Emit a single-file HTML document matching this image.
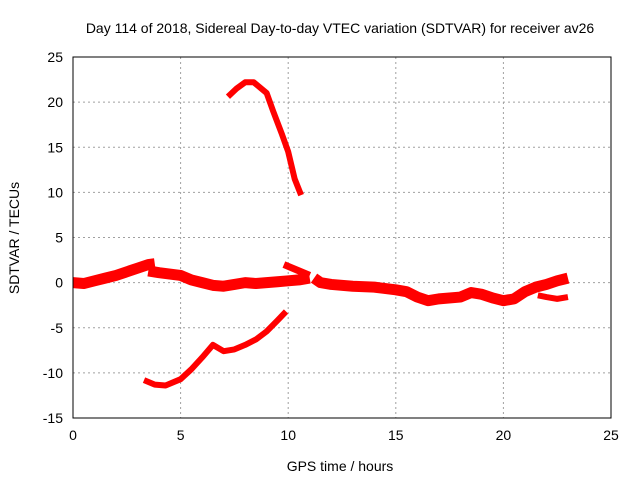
<!DOCTYPE html>
<html><head><meta charset="utf-8"><style>
body{margin:0;background:#fff}
svg text{font-family:"Liberation Sans",sans-serif;font-size:14px;fill:#000}
</style></head><body>
<svg id="c" width="640" height="480" xmlns="http://www.w3.org/2000/svg">
<text x="340" y="33" text-anchor="middle">Day 114 of 2018, Sidereal Day-to-day VTEC variation (SDTVAR) for receiver av26</text>
<text x="340" y="471" text-anchor="middle">GPS time / hours</text>
<text transform="translate(19,238) rotate(-90)" text-anchor="middle">SDTVAR / TECUs</text>
<g id="grid"></g><g id="marks"></g>
<rect x="73" y="57" width="538" height="361" fill="none" stroke="#000" stroke-width="1"/>
</svg>
<script>
const xTicks=[0,5,10,15,20,25];
const yTicks=[25,20,15,10,5,0,-5,-10,-15];
const bandA=[[0,0],[0.5,-0.1],[1,0.2],[1.5,0.5],[2,0.8],[2.5,1.2],[3,1.6],[3.5,2.0],[3.8,2.1]];
const bandB=[[3.5,1.3],[4,1.1],[5,0.8],[5.5,0.3],[6,0],[6.5,-0.3],[7,-0.4],[7.5,-0.2],[8,0],[8.5,-0.1],[9,0],[9.5,0.1],[10,0.2],[10.5,0.3],[11,0.5]];
const bandC=[[9.8,2.0],[10.5,1.3],[11,0.8]];
const bandD=[[11.2,0.5],[11.5,0],[12,-0.2],[13,-0.4],[14,-0.5],[15,-0.8],[15.5,-1],[16,-1.6],[16.5,-2],[17,-1.8],[18,-1.6],[18.5,-1.1],[19,-1.3],[19.5,-1.7],[20,-2],[20.5,-1.8],[21,-1],[21.5,-0.5],[22,-0.2],[22.5,0.2],[23,0.5]];
const bandE=[[21.6,-1.4],[22,-1.6],[22.5,-1.8],[23,-1.6]];
const upperArc=[[7.2,20.6],[7.6,21.5],[8,22.2],[8.4,22.2],[9,21],[9.3,19],[9.7,16.5],[10,14.5],[10.3,11.5],[10.6,9.7]];
const lowerArc=[[3.3,-10.8],[3.8,-11.3],[4.3,-11.4],[5,-10.7],[5.5,-9.6],[6,-8.3],[6.5,-6.9],[7,-7.6],[7.5,-7.4],[8,-6.9],[8.5,-6.3],[9,-5.4],[9.5,-4.2],[9.9,-3.2]];
const NS="http://www.w3.org/2000/svg";
const X=h=>73+h*(538/25), Y=v=>418-(v+15)*(361/40);
const grid=document.getElementById('grid'), marks=document.getElementById('marks');
function mk(tag,at,parent){const e=document.createElementNS(NS,tag);for(const k in at)e.setAttribute(k,at[k]);parent.appendChild(e);return e;}
xTicks.forEach(t=>{
  if(t>0&&t<25){const l=mk('line',{x1:X(t),x2:X(t),y1:57,y2:418,stroke:'#a0a0a0','stroke-dasharray':'2,3'},grid);
  
  }
  const tx=mk('text',{x:X(t),y:440,'text-anchor':'middle'},grid);tx.textContent=t;
  
  
});
yTicks.forEach(t=>{
  if(t>-15&&t<25){const l=mk('line',{x1:73,x2:611,y1:Y(t),y2:Y(t),stroke:'#a0a0a0','stroke-dasharray':'2,3'},grid);
  
  }
  const tx=mk('text',{x:63,y:Y(t)+5,'text-anchor':'end'},grid);tx.textContent=t;
  
  
});
[[bandA,11,'band-segment-a'],[bandB,11,'band-segment-b'],[bandC,7,'band-segment-c'],[bandD,11,'band-segment-d'],[bandE,6,'band-segment-e'],[upperArc,6,'upper-arc'],[lowerArc,6,'lower-arc']].forEach(([d,w,n])=>{
  const p=mk('polyline',{points:d.map(q=>X(q[0])+','+Y(q[1])).join(' '),fill:'none',stroke:'#f00','stroke-width':w,'stroke-linejoin':'round'},marks);
  
  
});
</script>
</body></html>
